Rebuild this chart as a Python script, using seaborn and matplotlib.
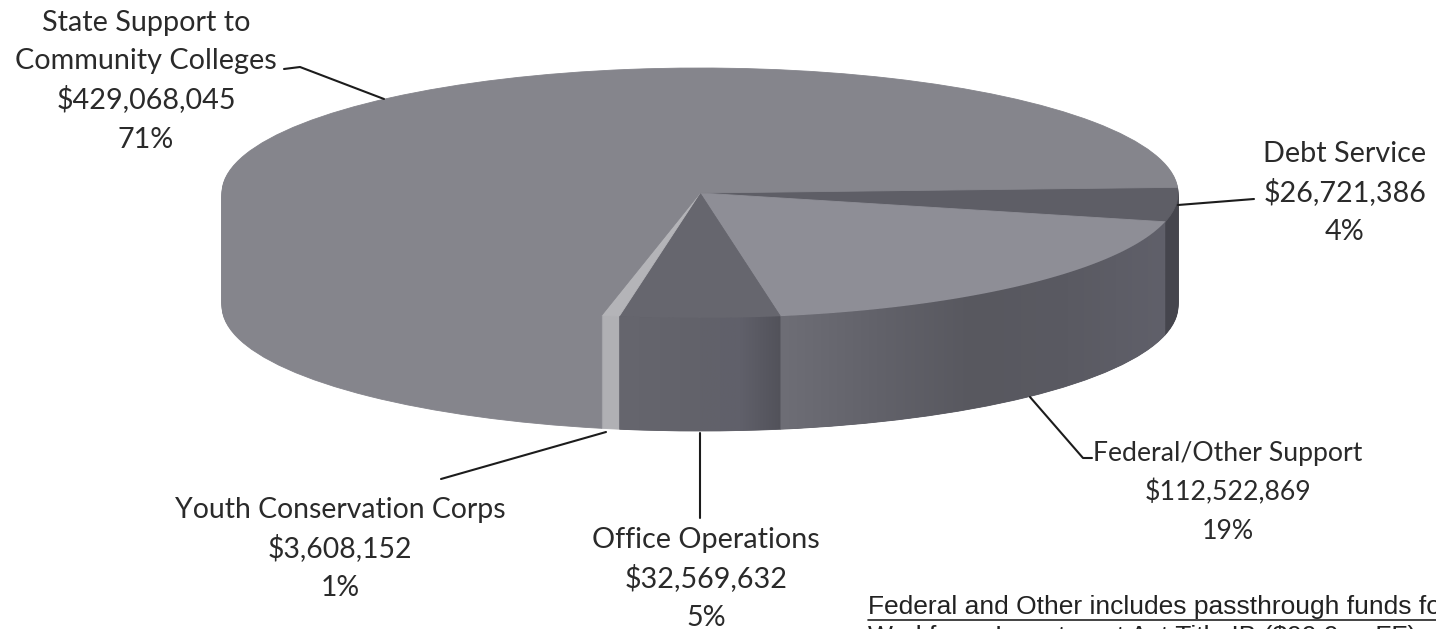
import matplotlib
matplotlib.use('Agg')
import matplotlib.pyplot as plt
from matplotlib.colors import LinearSegmentedColormap
from matplotlib.patches import Polygon
import numpy as np
import seaborn as sns

# Amounts by category, clockwise from the right edge of the pie
categories = ['Debt Service', 'Federal/Other Support', 'Office Operations',
              'Youth Conservation Corps', 'State Support to\nCommunity Colleges']
amounts = [26721386, 112522869, 32569632, 3608152, 429068045]
percents = ['4%', '19%', '5%', '1%', '71%']

top_colors = ['#5e5e66', '#8e8e96', '#66666e', '#b4b4b8', '#85858c']
side_colors = ['#45454d', '#5e5e66', '#5c5c64', '#b0b0b4', '#85858c']

note_lines = ['Federal and Other includes passthrough funds for',
              'Workforce Investment Act Title IB ($99.9 m FF)']

sns.set_theme(style='white')
plt.rcParams['font.family'] = ['Lato', 'DejaVu Sans']

W, H = 1436, 629
CX, CY, RX, RY = 700, 193, 478, 125
START = 2.6
DEPTH = 113
fig = plt.figure(figsize=(W / 100, H / 100), dpi=100, facecolor='white')


def draw_layer(colors, center):
    wedges, _ = ax.pie(amounts, colors=colors, startangle=START, counterclock=False, center=center)
    for w in wedges:
        w.set_edgecolor(w.get_facecolor())
        w.set_linewidth(0.6)


# pie axes: one unit is RX px across and RY px down
ax = fig.add_axes([0, 0, 1, 1])
ax.axis('off')
for i in range(DEPTH, 0, -1):
    draw_layer(side_colors, (0, -i / RY))
draw_layer(top_colors, (0, 0))
ax.set_aspect('auto')
ax.set_xlim(-CX / RX, (W - CX) / RX)
ax.set_ylim((CY - H) / RY, CY / RY)

# overlay in image pixels for shading, labels and leader lines
ov = fig.add_axes([0, 0, 1, 1], facecolor='none')
ov.axis('off')

# horizontal shading on the two dark side walls
edges = START - np.concatenate([[0], np.cumsum(amounts)]) / sum(amounts) * 360
shades = {1: ['#6e6e76', '#62626a', '#58585f', '#5a5a62', '#60606a'],
          2: ['#66666e', '#64646c', '#62626a', '#60606a', '#52525a']}
for idx, stops in shades.items():
    t = np.radians(np.linspace(edges[idx], edges[idx + 1], 80))
    xs = CX + RX * np.cos(t)
    ys = CY - RY * np.sin(t)
    outline = np.column_stack([np.r_[xs, xs[::-1]], np.r_[ys, ys[::-1] + DEPTH]])
    cmap = LinearSegmentedColormap.from_list('side', stops)
    im = ov.imshow(np.linspace(0, 1, 256).reshape(1, -1), cmap=cmap, aspect='auto',
                   extent=(xs.min(), xs.max(), ys.max() + DEPTH, ys.min()))
    im.set_clip_path(Polygon(outline, transform=ov.transData))

ov.set_xlim(0, W)
ov.set_ylim(H, 0)

# one text per line so the baselines stay evenly spaced
label_pos = [(1345, 191), (1228, 490), (706, 577), (340, 547), (146, 79)]
label_sizes = [20.7, 19.2, 20.7, 20.4, 20.7]
LINE_GAP = 39
for name, amt, pct, (x, y), size in zip(categories, amounts, percents, label_pos, label_sizes):
    lines = name.split('\n') + [f'${amt:,}', pct]
    for k, line in enumerate(lines):
        ov.text(x, y + 10 + (k - (len(lines) - 1) / 2) * LINE_GAP, line, ha='center', va='baseline',
                fontsize=size, color='#2a2a2a')

leaders = [[(1178, 205), (1254, 199)],
           [(1030, 397), (1083, 458), (1092, 458)],
           [(700, 433), (700, 518)],
           [(606, 432), (441, 479)],
           [(284, 69), (300, 67), (384, 99)]]
for pts in leaders:
    ov.plot([p[0] for p in pts], [p[1] for p in pts], color='#1c1c1c', lw=1.5)

ov.text(868, 614, note_lines[0], fontsize=19, family='Liberation Sans', color='#222222',
        va='baseline', clip_on=True)
ov.plot([868, W], [620, 620], color='#222222', lw=1.2)
ov.text(868, 644, note_lines[1], fontsize=19, family='Liberation Sans', color='#222222',
        va='baseline', clip_on=True)

fig.savefig('out.png', dpi=100)
